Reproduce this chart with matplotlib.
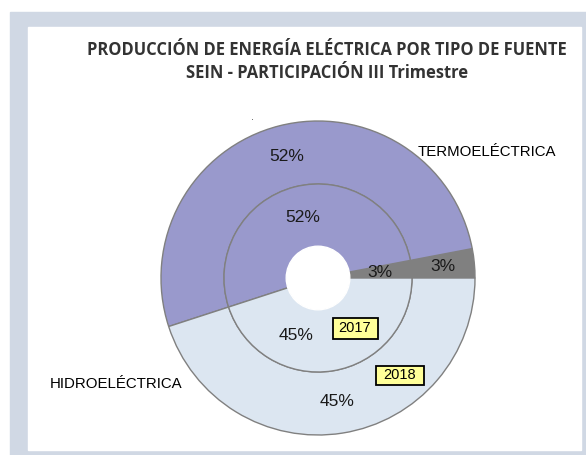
import matplotlib.pyplot as plt
from matplotlib.patches import Rectangle, Circle

# datos (orden antihorario desde las 3 en punto)
fuentes = ['RER', 'TERMOELÉCTRICA', 'HIDROELÉCTRICA']
part_2017 = [3, 52, 45]
part_2018 = [3, 52, 45]
colores = ['#808080', '#9999cc', '#dce6f1']

W, H = 586, 455
fig = plt.figure(figsize=(W / 100, H / 100), dpi=100)
ax = fig.add_axes([0, 0, 1, 1])

def py(y):
    # coordenada y en pixeles (desde arriba) a datos
    return H - y

# marco
ax.add_patch(Rectangle((10, py(455)), 576, 443, color='#d0d8e4', zorder=0))
ax.add_patch(Rectangle((28, py(450)), 553, 423, color='white', zorder=0))

cx, cy = 318, py(278)
r_ext, r_int, ancho = 157, 94, 63
borde = dict(edgecolor='#808080', linewidth=1)
txt = dict(fontsize=12.5, color='#1a1a1a', family='Liberation Sans')

# anillo exterior 2018
w18, t18, a18 = ax.pie(part_2018, colors=colores, radius=r_ext, center=(cx, cy),
                       startangle=0, counterclock=True, frame=True,
                       autopct='%.0f%%', pctdistance=125 / r_ext,
                       wedgeprops=dict(width=ancho, **borde), textprops=txt)

# anillo interior 2017
w17, t17, a17 = ax.pie(part_2017, colors=colores, radius=r_int, center=(cx, cy),
                       startangle=0, counterclock=True, frame=True,
                       autopct='%.0f%%', pctdistance=62 / r_int,
                       wedgeprops=dict(width=ancho, **borde), textprops=txt)
a17[2].set_position((296, py(336)))

# hueco central sin borde
ax.add_patch(Circle((cx, cy), r_int - ancho + 0.8, color='white', zorder=5))

ax.set_xlim(0, W)
ax.set_ylim(0, H)
ax.set_aspect('equal')
ax.axis('off')

# etiquetas de año
for anio, (x, y, w, h) in zip(['2017', '2018'], [(355, 328, 45, 21), (400, 375, 48, 19)]):
    ax.add_patch(Rectangle((x - w / 2, py(y) - h / 2), w, h, facecolor='#ffff99',
                           edgecolor='black', linewidth=1.3, zorder=6))
    ax.text(x, py(y), anio, fontsize=10.5, family='Liberation Sans', ha='center',
            va='center', zorder=7)

# etiquetas de categoria
ax.text(418, py(152), fuentes[1], fontsize=10.8, family='Liberation Sans', ha='left', va='center')
ax.text(50, py(384), fuentes[2], fontsize=10.8, family='Liberation Sans', ha='left', va='center')
ax.text(252, py(117), '.', fontsize=7, ha='center', va='center', color='#555555')

# titulo
ax.text(327, py(50), 'PRODUCCIÓN DE ENERGÍA ELÉCTRICA POR TIPO DE FUENTE',
        fontsize=11.9, fontweight='bold', family='Open Sans', color='#333333',
        ha='center', va='center')
ax.text(327, py(73), 'SEIN - PARTICIPACIÓN III Trimestre',
        fontsize=11.9, fontweight='bold', family='Open Sans', color='#333333',
        ha='center', va='center')

fig.savefig('out.png', dpi=100, facecolor='white')
